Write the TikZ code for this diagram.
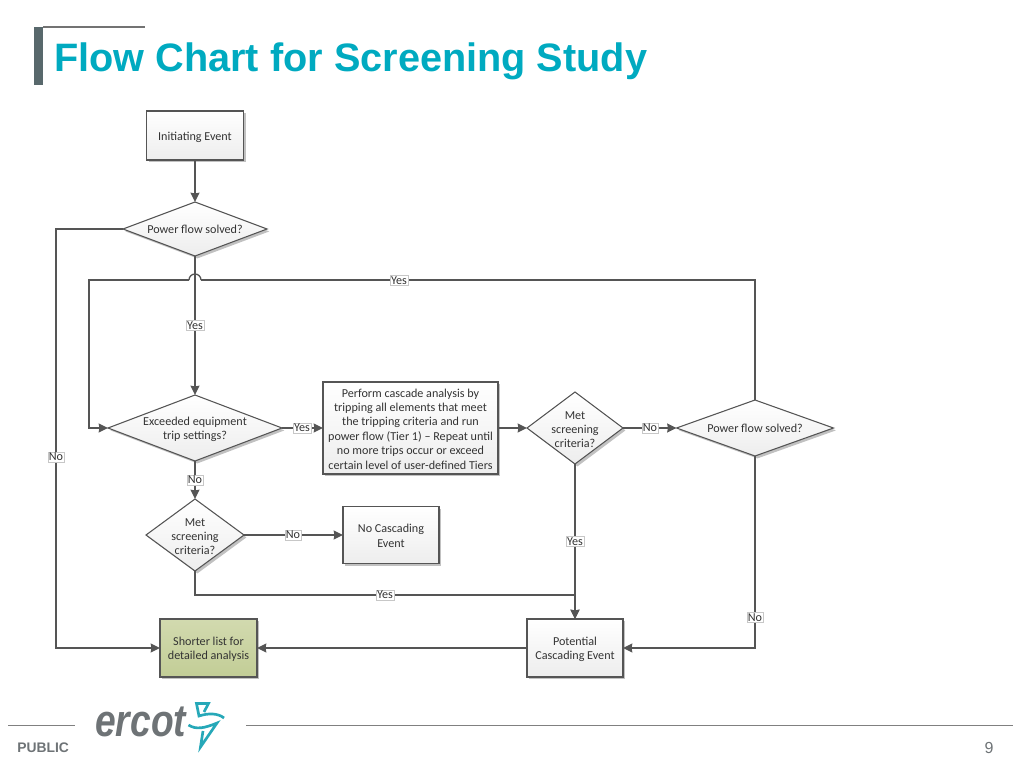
\documentclass[tikz,border=0pt]{standalone}
\usepackage{fontspec}
\setmainfont{Carlito}
\newfontfamily\arialf{Liberation Sans}
\usetikzlibrary{arrows.meta,shapes.geometric,shadows,positioning,calc}
\definecolor{ttl}{RGB}{0,170,192}
\definecolor{lne}{RGB}{85,85,85}
\definecolor{grn}{RGB}{210,218,175}
\definecolor{grnb}{RGB}{194,205,150}
\definecolor{barc}{RGB}{88,104,108}
\definecolor{ftr}{RGB}{110,115,118}
\definecolor{teal1}{RGB}{38,168,184}
\newcommand\nudgeA{\rule{0pt}{8.2pt}}
\newcommand\nudgeB{\rule{0pt}{7.8pt}}
\tikzset{
  x=.75pt,y=-.75pt,
  flowbase/.style={draw=lne,line width=.8pt,outer sep=0pt,text=black!80,font=\fontsize{9.1}{10.8}\selectfont,align=center,
    drop shadow={shadow xshift=1.8pt,shadow yshift=-1.8pt,opacity=.35,fill=black!70}},
  procbox/.style={flowbase,rectangle,top color=white,bottom color=black!7,inner sep=0pt},
  greenbox/.style={flowbase,rectangle,top color=grn,bottom color=grnb,inner sep=0pt},
  decis/.style={flowbase,diamond,top color=white,bottom color=black!7,inner sep=-14pt},
  wire/.style={draw=lne,line width=1pt},
  conn/.style={wire,-{Stealth[length=7pt,width=6.8pt,inset=.6pt]}},
  tag/.style={draw=black!22,line width=.4pt,fill=white,inner sep=.8pt,text=black!80,font=\fontsize{9.1}{10}\selectfont},
  swoosh/.style={draw=teal1,line width=2pt,line join=miter},
}
\begin{document}
\begin{tikzpicture}
\useasboundingbox (0,0) rectangle (1024,768);
% header
\fill[barc] (34,27) rectangle (43,85);
\draw[black!55,line width=.8pt] (43,27) -- (145,27);
\node[anchor=west,inner sep=0pt,text=ttl,font=\arialf\bfseries\fontsize{29.75}{32}\selectfont] (title) at (54,61) {Flow Chart for Screening Study};
% boxes
\node[procbox,minimum width=97*.75pt,minimum height=49*.75pt] (init) at (195,135.5) {\rule{0pt}{9pt}Initiating Event};
\node[decis,shape aspect=2.67,minimum width=144*.75pt,minimum height=54*.75pt] (d1) at (195,229) {\rule{0pt}{7.5pt}Power flow solved?};
\node[decis,shape aspect=2.64,minimum width=174*.75pt,minimum height=66*.75pt] (d2) at (195,428) {\nudgeA Exceeded equipment\\trip settings?};
\node[procbox,minimum width=175*.75pt,minimum height=92*.75pt] (casc) at (410.5,428) {\nudgeB Perform cascade analysis by\\tripping all elements that meet\\the tripping criteria and run\\power flow (Tier 1) -- Repeat until\\no more trips occur or exceed\\certain level of user-defined Tiers};
\node[decis,shape aspect=1.33,minimum width=96*.75pt,minimum height=72*.75pt] (d3) at (575,428) {\nudgeA Met\\screening\\criteria?};
\node[decis,shape aspect=2.8,minimum width=157*.75pt,minimum height=56*.75pt] (d4) at (755,428) {\rule{0pt}{7.5pt}Power flow solved?};
\node[decis,shape aspect=1.36,minimum width=98*.75pt,minimum height=72*.75pt] (d5) at (195,535) {\nudgeA Met\\screening\\criteria?};
\node[procbox,minimum width=96*.75pt,minimum height=57*.75pt] (nocasc) at (391,535) {\nudgeB No Cascading\\Event};
\node[greenbox,minimum width=97*.75pt,minimum height=58*.75pt] (short) at (208.5,648) {\nudgeA Shorter list for\\detailed analysis};
\node[procbox,minimum width=96*.75pt,minimum height=58*.75pt] (pot) at (575,648) {\nudgeA Potential\\Cascading Event};
% corners
\coordinate (c1) at (56,229);
\coordinate (c2) at (56,648);
\coordinate (c3) at (755,280);
\coordinate (c4) at (89,280);
\coordinate (c5) at (89,428);
\coordinate (c6) at (195,595);
\coordinate (c7) at (575,595);
\coordinate (c8) at (755,648);
\coordinate (j1) at (201,280);
\coordinate (j2) at (189,280);
% connectors
\draw[conn] (init.south) -- (d1.north);
\draw[conn] (d1.west) -- (c1) -- (c2) -- (short.west);
\draw[conn] (d1.south) -- (d2.north);
\draw[wire] (d4.north) -- (c3) -- (j1);
\draw[wire] (j1) arc[start angle=0,end angle=-180,radius=6];
\draw[conn] (j2) -- (c4) -- (c5) -- (d2.west);
\draw[conn] (d2.east) -- (casc.west);
\draw[conn] (casc.east) -- (d3.west);
\draw[conn] (d3.east) -- (d4.west);
\draw[conn] (d3.south) -- (pot.north);
\draw[conn] (d2.south) -- (d5.north);
\draw[conn] (d5.east) -- (nocasc.west);
\draw[conn] (d5.south) -- (c6) -- (c7) -- (pot.north);
\draw[conn] (d4.south) -- (c8) -- (pot.east);
\draw[conn] (pot.west) -- (short.east);
% labels
\node[tag] (t1) at (56,457) {No};
\node[tag] (t2) at (399,280.5) {Yes};
\node[tag] (t3) at (195,325.5) {Yes};
\node[tag] (t4) at (302,428) {Yes};
\node[tag] (t5) at (650,428) {No};
\node[tag] (t6) at (195,480) {No};
\node[tag] (t7) at (293,535) {No};
\node[tag] (t8) at (575,541.5) {Yes};
\node[tag] (t9) at (385,595) {Yes};
\node[tag] (t10) at (755,617.5) {No};
% footer
\draw[black!50,line width=.7pt] (8,725) -- (75,725);
\draw[black!50,line width=.7pt] (246,725) -- (1013,725);
\node[anchor=west,inner sep=0pt,text=ftr,font=\arialf\bfseries\fontsize{10.4}{12}\selectfont] (pub) at (17,748) {PUBLIC};
\node[inner sep=0pt,text=ftr,font=\arialf\fontsize{12}{14}\selectfont] (pg) at (989,748) {9};
\node[anchor=west,inner sep=0pt,text=ftr,font=\arialf\bfseries\itshape\fontsize{34}{36}\selectfont,xscale=.82] (logo) at (95,722) {ercot};
% logo mark
\draw[swoosh] (204,712) -- (208.5,703.5) -- (196.5,703.5) -- (199,716) .. controls (208,713) and (218,713) .. (224,718);
\draw[swoosh] (188.5,725) .. controls (196,730) and (205,728) .. (217,723) -- (200.5,747) -- (203,731);
\end{tikzpicture}
\end{document}
